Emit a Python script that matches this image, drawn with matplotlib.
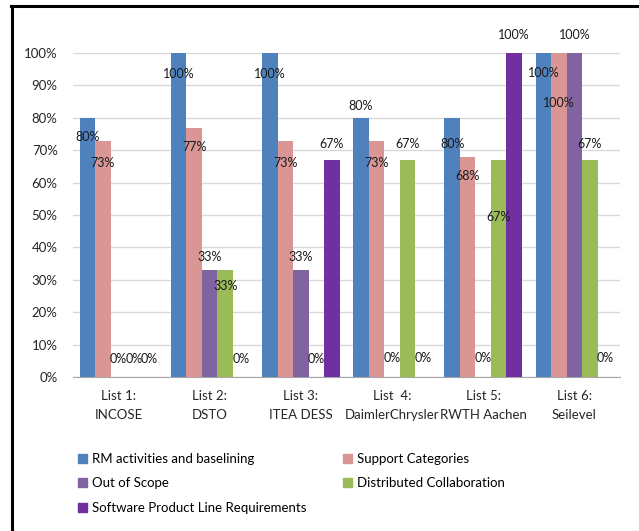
import numpy as np
import matplotlib
matplotlib.use('Agg')
from matplotlib import pyplot as plt
from matplotlib.patches import Patch

plt.rcParams['font.family'] = ['Lato', 'DejaVu Sans']

categories = ['List 1:\nINCOSE', 'List 2:\nDSTO', 'List 3:\nITEA DESS',
              'List  4:\nDaimlerChrysler', 'List 5:\nRWTH Aachen', 'List 6:\nSeilevel']
series_names = ['RM activities and baselining', 'Support Categories', 'Out of Scope',
                'Distributed Collaboration', 'Software Product Line Requirements']
rm_activities = [80, 100, 100, 80, 80, 100]
support_categories = [73, 77, 73, 73, 68, 100]
out_of_scope = [0, 33, 33, 0, 0, 100]
distributed_collab = [0, 33, 0, 67, 67, 67]
spl_requirements = [0, 0, 67, 0, 100, 0]
yticks = [0, 10, 20, 30, 40, 50, 60, 70, 80, 90, 100]

series = [rm_activities, support_categories, out_of_scope, distributed_collab, spl_requirements]
colors = ['#4F81BD', '#D99694', '#8064A2', '#9BBB59', '#7030A0']

# label offsets (in % units) relative to bar top, roughly as Excel placed them
label_shift = [
    [-6, -6.5, -6.5, 3.6, -8, -6.2],
    [-7, -6, -7, -7, -6, -15.5],
    [5.5, 4, 4, 6, 6, 5.5],
    [5.5, -5, 5.5, 5, -17.6, 5],
    [5.5, 5.5, 5, 6, 5.5, 6],
]

fig = plt.figure(figsize=(6.39, 5.31), dpi=100)
ax = fig.add_axes([0.1142, 0.290, 0.856, 0.610])

x = np.arange(len(categories))
n = len(series)
w = 0.85 / n
for i, vals in enumerate(series):
    pos = x - 0.425 + w * (i + 0.5)
    ax.bar(pos, vals, width=w, color=colors[i], zorder=3)
    for p, v, s in zip(pos, vals, label_shift[i]):
        ax.text(p, v + s, f'{v}%', ha='center', va='center', fontsize=9,
                color='#1a1a1a', zorder=5)

ax.set_xlim(-0.5, len(categories) - 0.5)
ax.set_ylim(0, 100)
ax.set_yticks(yticks)
ax.set_yticklabels([f'{t}%' for t in yticks], fontsize=9.5, color='#262626')
ax.set_xticks(x)
ax.set_xticklabels(categories, fontsize=9.5, color='#262626', linespacing=1.75)
ax.tick_params(axis='y', length=0, pad=11)
ax.tick_params(axis='x', length=0, pad=9)
ax.grid(axis='y', color='#D9D9D9', linewidth=1, zorder=0)
for side in ['left', 'right', 'top']:
    ax.spines[side].set_visible(False)
ax.spines['bottom'].set_color('#A6A6A6')

# legend: reorder so column-major fill gives row-major layout
order = [0, 2, 4, 1, 3]
handles = [Patch(color=colors[k]) for k in order]
labels = [series_names[k] for k in order]
fig.legend(handles, labels, loc='upper left', bbox_to_anchor=(0.122, 0.147),
           ncol=2, frameon=False, fontsize=9.5, handlelength=0.7, handleheight=0.7,
           handletextpad=0.35, columnspacing=2.8, labelspacing=0.95,
           borderpad=0, borderaxespad=0)

# black frame lines (top and left)
fig.add_artist(plt.Line2D([0.017, 1.0], [0.988, 0.988], color='black', linewidth=2.2,
                          transform=fig.transFigure))
fig.add_artist(plt.Line2D([0.018, 0.018], [0.0, 0.988], color='black', linewidth=2.2,
                          transform=fig.transFigure))

fig.savefig('out.png', dpi=100)
